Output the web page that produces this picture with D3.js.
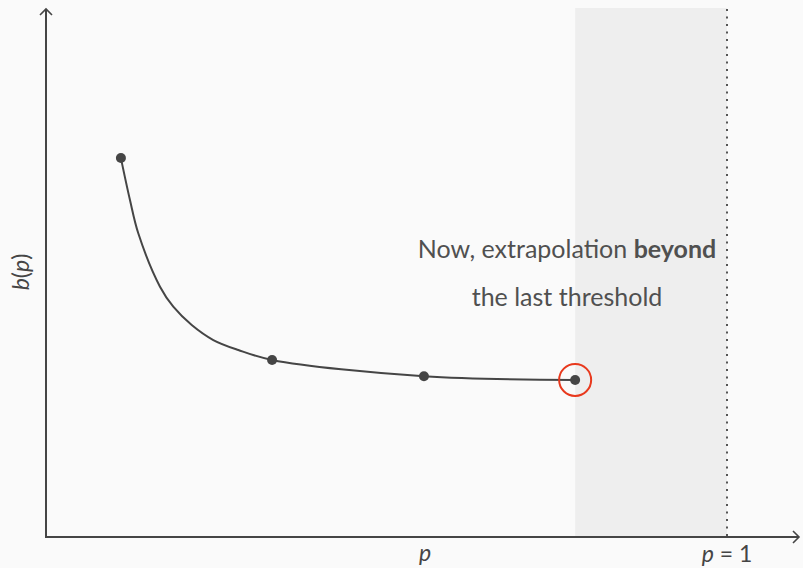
<!DOCTYPE html>
<html><head><meta charset="utf-8">
<script src="https://cdn.jsdelivr.net/npm/d3@7"></script>
<style>html,body{margin:0;padding:0;background:#fafafa;}svg{display:block;}</style>
</head><body>
<svg id="c" width="803" height="568"></svg>
<script>
// threshold points (p, b)
const thresholdP = [0.110, 0.332, 0.555, 0.777];
const thresholdB = [0.719, 0.336, 0.305, 0.298];
// curve samples
const curveP = [0.110, 0.1233, 0.1355, 0.1674, 0.1869, 0.2140, 0.2457, 0.2824, 0.332, 0.555, 0.777];
const curveB = [0.719, 0.6395, 0.5763, 0.4750, 0.4370, 0.4023, 0.3738, 0.3548, 0.336, 0.305, 0.298];
const shadeRange = [0.777, 1.0];
const textLines = ["Now, extrapolation ", "beyond", "the last threshold"];

const svg = d3.select("#c");
const x = d3.scaleLinear().domain([0, 1]).range([46, 727]);
const y = d3.scaleLinear().domain([0, 1]).range([537, 10]);
const ink = "#454545";

// shaded region
svg.append("rect")
  .attr("x", x(shadeRange[0])).attr("y", 8)
  .attr("width", x(shadeRange[1]) - x(shadeRange[0])).attr("height", 537 - 8)
  .attr("fill", "#eeeeee");

// dotted line p=1
svg.append("line")
  .attr("x1", x(1)).attr("x2", x(1)).attr("y1", 9).attr("y2", 537)
  .attr("stroke", "#555").attr("stroke-width", 2).attr("stroke-dasharray", "2,5.5");

// axes
svg.append("line").attr("x1", 46).attr("x2", 46).attr("y1", 538).attr("y2", 9)
  .attr("stroke", ink).attr("stroke-width", 2);
svg.append("line").attr("x1", 45).attr("x2", 799).attr("y1", 537).attr("y2", 537)
  .attr("stroke", ink).attr("stroke-width", 2);
svg.append("path").attr("d", "M40,15 L46,9 L52,15").attr("fill", "none")
  .attr("stroke", ink).attr("stroke-width", 1.6);
svg.append("path").attr("d", "M793,531 L799,537 L793,543").attr("fill", "none")
  .attr("stroke", ink).attr("stroke-width", 1.6);

// curve
const line = d3.line().x(d => x(d[0])).y(d => y(d[1])).curve(d3.curveCatmullRom.alpha(0.5));
svg.append("path").datum(curveP.map((p, i) => [p, curveB[i]]))
  .attr("d", line).attr("fill", "none").attr("stroke", ink).attr("stroke-width", 2);

// points
svg.selectAll("circle.pt").data(thresholdP.map((p, i) => [p, thresholdB[i]]))
  .enter().append("circle").attr("class", "pt")
  .attr("cx", d => x(d[0])).attr("cy", d => y(d[1])).attr("r", 5).attr("fill", ink);

// red circle on last
const last = thresholdP.length - 1;
svg.append("circle").attr("cx", x(thresholdP[last])).attr("cy", y(thresholdB[last]))
  .attr("r", 16).attr("fill", "none").attr("stroke", "#e8391d").attr("stroke-width", 2);

// annotation
const font = "'Lato', 'Open Sans', sans-serif";
const t1 = svg.append("text").attr("x", 567).attr("y", 258).attr("text-anchor", "middle")
  .attr("font-family", font).attr("font-size", 25).attr("fill", "#505050");
t1.append("tspan").text(textLines[0]);
t1.append("tspan").attr("font-weight", "bold").text(textLines[1]);
svg.append("text").attr("x", 567).attr("y", 306).attr("text-anchor", "middle")
  .attr("font-family", font).attr("font-size", 25).attr("fill", "#505050").text(textLines[2]);

// axis labels
svg.append("text").attr("x", 425).attr("y", 561).attr("text-anchor", "middle")
  .attr("font-family", font).attr("font-style", "italic").attr("font-size", 23).attr("fill", ink).text("p");
const pl = svg.append("text").attr("x", 727).attr("y", 562).attr("text-anchor", "middle")
  .attr("font-family", font).attr("font-size", 23).attr("fill", ink);
pl.append("tspan").attr("font-style", "italic").text("p");
pl.append("tspan").text(" = 1");
const bl = svg.append("text").attr("transform", "translate(29,272) rotate(-90)").attr("text-anchor", "middle")
  .attr("font-family", font).attr("font-size", 23).attr("fill", ink);
bl.append("tspan").attr("font-style", "italic").text("b");
bl.append("tspan").text("(");
bl.append("tspan").attr("font-style", "italic").text("p");
bl.append("tspan").text(")");
</script>
</body></html>
